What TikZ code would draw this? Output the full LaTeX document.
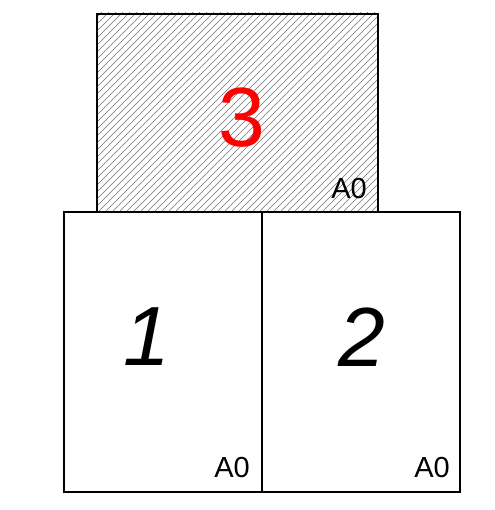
\documentclass[tikz,border=0pt]{standalone}
\usepackage{fontspec}
\setmainfont{Liberation Sans}
\begin{document}
\begin{tikzpicture}[x=1pt,y=-1pt,
  sheet/.style={draw=black,line width=1.8pt},
  hatchline/.style={draw=black!55,line width=0.55pt},
  bignum/.style={font=\fontsize{84}{84}\selectfont\itshape,inner sep=0pt},
  fmt/.style={font=\fontsize{29}{29}\selectfont,inner sep=0pt}]
\useasboundingbox (0,0) rectangle (494,510);
% hatch for sheet 3
\begin{scope}
\clip (96,13) rectangle (377,211);
\foreach \k in {0,7,...,490}{
  \draw[hatchline] (96+\k-200,211) -- (96+\k,11);
}
\end{scope}
\node[sheet,minimum width=281pt,minimum height=198pt,anchor=north west,inner sep=0pt] (s3) at (96,13) {};
\node[sheet,minimum width=198pt,minimum height=280pt,anchor=north west,inner sep=0pt] (s1) at (63,211) {};
\node[sheet,minimum width=198pt,minimum height=280pt,anchor=north west,inner sep=0pt] (s2) at (261,211) {};
\node[bignum,text=red,font=\fontsize{84}{84}\selectfont] (n3) at (242,118) {3};
\node[bignum] (n1) at (147,337) {1};
\node[bignum] (n2) at (362,337) {2};
\node[fmt] (f3) at (349,189) {A0};
\node[fmt] (f1) at (232,468) {A0};
\node[fmt] (f2) at (432,468) {A0};
\end{tikzpicture}
\end{document}
